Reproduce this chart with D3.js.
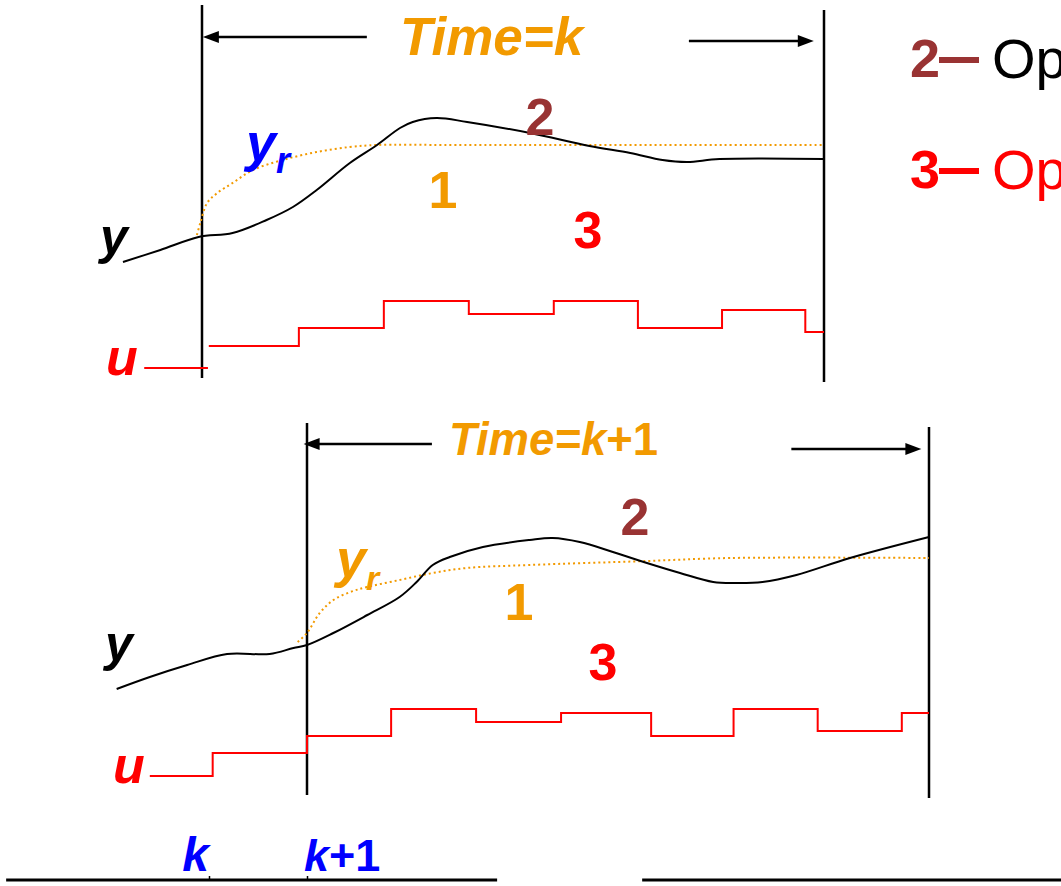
<!DOCTYPE html>
<html>
<head>
<meta charset="utf-8">
<script src="https://cdn.jsdelivr.net/npm/d3@7"></script>
<style>
  body { margin: 0; background: #fff; }
  svg { display: block; font-family: "Liberation Sans", Arial, sans-serif; }
</style>
</head>
<body>
<div id="svganchor"></div>
<script>
/*
------------------------------
DATA: values (time in samples from k, levels in arbitrary units)
------------------------------
*/
let horizon = 7.32;

// panel 1, time = k
let p1OutT = [-0.93, -0.49, -0.04, 0.36, 0.76, 1.07, 1.35, 1.74, 2.06, 2.33, 2.48, 2.76, 3.12, 3.86, 4.56, 5.04, 5.42, 5.71, 6.09, 7.32];
let p1OutV = [0.9, 1.5, 2.15, 2.35, 3.0, 3.65, 4.5, 5.85, 6.75, 7.6, 7.9, 8.1, 7.9, 7.35, 6.7, 6.35, 6.0, 5.9, 6.05, 6.05];
let p1RefT = [-0.06, -0.02, 0.06, 0.18, 0.36, 0.6, 0.95, 1.35, 1.74, 2.06, 3.0, 7.32];
let p1RefV = [2.25, 2.85, 3.85, 4.35, 4.85, 5.5, 6.0, 6.4, 6.65, 6.75, 6.75, 6.75];
let p1PastUT = [-0.68, 0.07];
let p1PastUV = [1.2, 1.2];
let p1UT = [0.08, 1.14, 2.14, 3.14, 4.14, 5.13, 6.12, 7.1, 7.32];
let p1UV = [3.4, 5.2, 7.9, 6.6, 7.9, 5.2, 7.0, 4.8, 4.8];

// panel 2, time = k+1
let p2OutT = [-2.24, -1.85, -1.41, -0.94, -0.44, -0.16, 0, 0.31, 0.71, 1.09, 1.29, 1.48, 1.68, 2.07, 2.62, 2.89, 3.21, 3.6, 4.0, 4.39, 4.78, 5.06, 5.36, 5.76, 6.39, 7.32];
let p2OutV = [0.2, 0.8, 1.4, 1.95, 1.95, 2.25, 2.4, 3.0, 3.9, 4.8, 5.55, 6.4, 6.8, 7.3, 7.65, 7.75, 7.55, 7.05, 6.5, 6.0, 5.55, 5.5, 5.55, 5.9, 6.75, 7.8];
let p2RefT = [-0.11, 0, 0.15, 0.31, 0.51, 0.71, 1.09, 1.48, 1.88, 2.62, 4.0, 4.98, 7.32];
let p2RefV = [2.55, 3.0, 4.0, 4.65, 5.05, 5.3, 5.65, 6.0, 6.25, 6.4, 6.6, 6.75, 6.75];
let p2UT = [-1.85, -1.11, 0, 0.99, 1.99, 2.99, 4.05, 5.02, 6.01, 7.0, 7.32];
let p2UV = [1.2, 3.5, 5.2, 7.9, 6.6, 7.5, 5.2, 7.9, 5.7, 7.5, 7.5];

// bottom time line
let tickValues = [0, 1];
let tickLabels = ["k", "k+1"];
let timeLine = [-2.07, 2.94];
let timeArrow = [4.42, 8.9];

// legend
let legendKeys = ["2", "3"];
let legendText = ["Op", "Op"];

/*
------------------------------
METHOD: canvas and colours
------------------------------
*/
let width = 1061;
let height = 886;
let orange = "#F29A00";
let brown = "#993333";
let red = "#FF0000";
let blue = "#0000FF";

let svg = d3.select("#svganchor")
    .append("svg")
    .attr("width", width)
    .attr("height", height);

function pts(t, v) { return t.map((d, i) => ({t: d, v: v[i]})); }

// horizontal arrow: shaft plus a filled head at x2
function hArrow(parent, x1, x2, y, w) {
    let dir = x2 > x1 ? 1 : -1;
    let len = 16, half = 6;
    parent.append("line")
        .attr("x1", x1).attr("x2", x2 - dir * (len - 2))
        .attr("y1", y).attr("y2", y)
        .attr("stroke", "#000").attr("stroke-width", w);
    parent.append("path")
        .attr("d", "M" + x2 + "," + y + "L" + (x2 - dir * len) + "," + (y - half) +
            "L" + (x2 - dir * len) + "," + (y + half) + "Z")
        .attr("fill", "#000");
}

/*
------------------------------
METHOD: draw one prediction panel
------------------------------
*/
function drawPanel(cfg) {
    let x = d3.scaleLinear().domain([0, horizon]).range([cfg.left, cfg.left + 622]);
    let yOut = d3.scaleLinear().domain([0, 8]).range([cfg.base, cfg.base - 160]);
    let yU = d3.scaleLinear().domain([0, 8]).range([cfg.uBase, cfg.uBase - 80]);
    let g = svg.append("g");

    let smooth = d3.line().x(d => x(d.t)).y(d => yOut(d.v)).curve(d3.curveCatmullRom.alpha(0.5));
    let step = d3.line().x(d => x(d.t)).y(d => yU(d.v)).curve(d3.curveStepAfter);

    // horizon borders
    g.append("line").attr("x1", x(0)).attr("x2", x(0))
        .attr("y1", cfg.lineTop[0]).attr("y2", cfg.lineBottom[0])
        .attr("stroke", "#000").attr("stroke-width", 2.5);
    g.append("line").attr("x1", x(horizon)).attr("x2", x(horizon))
        .attr("y1", cfg.lineTop[1]).attr("y2", cfg.lineBottom[1])
        .attr("stroke", "#000").attr("stroke-width", 2.5);

    // horizon arrows
    hArrow(g, x(cfg.arrowL[0]), x(cfg.arrowL[1]), cfg.arrowY[0], 2.5);
    hArrow(g, x(cfg.arrowR[0]), x(cfg.arrowR[1]), cfg.arrowY[1], 2.5);

    // reference trajectory
    g.append("path").datum(pts(cfg.refT, cfg.refV))
        .attr("d", smooth).attr("fill", "none")
        .attr("stroke", orange).attr("stroke-width", 2).attr("stroke-dasharray", "2,3");

    // predicted output
    g.append("path").datum(pts(cfg.outT, cfg.outV))
        .attr("d", smooth).attr("fill", "none")
        .attr("stroke", "#000").attr("stroke-width", 2);

    // control moves
    cfg.uSeries.forEach(function(s) {
        g.append("path").datum(pts(s[0], s[1]))
            .attr("d", step).attr("fill", "none")
            .attr("stroke", red).attr("stroke-width", 2);
    });

    // labels
    cfg.labels.forEach(function(l) {
        g.append("text")
            .attr("x", l.x).attr("y", l.y)
            .attr("text-anchor", l.anchor || "start")
            .attr("font-size", l.size)
            .attr("font-weight", "bold")
            .attr("font-style", l.italic ? "italic" : "normal")
            .attr("fill", l.color)
            .text(l.text);
        if (l.sub) {
            g.append("text").attr("x", l.sub.x).attr("y", l.sub.y)
                .attr("font-size", l.sub.size).attr("font-weight", "bold")
                .attr("font-style", "italic").attr("fill", l.color).text(l.sub.text);
        }
    });
}

drawPanel({
    left: 202, base: 280, uBase: 380,
    lineTop: [5, 10], lineBottom: [378, 382],
    arrowL: [1.94, 0.01], arrowR: [5.73, 7.2], arrowY: [37, 41],
    outT: p1OutT, outV: p1OutV, refT: p1RefT, refV: p1RefV,
    uSeries: [[p1PastUT, p1PastUV], [p1UT, p1UV]],
    labels: [
        {text: "y", x: 100, y: 254, size: 50, italic: true, color: "#000"},
        {text: "y", x: 246, y: 161, size: 54, italic: true, color: blue,
            sub: {text: "r", x: 276, y: 173, size: 36}},
        {text: "1", x: 443, y: 208, size: 52, anchor: "middle", color: orange},
        {text: "2", x: 540, y: 135, size: 52, anchor: "middle", color: brown},
        {text: "3", x: 588, y: 248, size: 52, anchor: "middle", color: red},
        {text: "u", x: 122, y: 375, size: 52, anchor: "middle", italic: true, color: red}
    ]
});

drawPanel({
    left: 307, base: 693, uBase: 788,
    lineTop: [423, 427], lineBottom: [795, 798],
    arrowL: [1.47, -0.04], arrowR: [5.7, 7.23], arrowY: [444, 449],
    outT: p2OutT, outV: p2OutV, refT: p2RefT, refV: p2RefV,
    uSeries: [[p2UT, p2UV]],
    labels: [
        {text: "y", x: 105, y: 661, size: 50, italic: true, color: "#000"},
        {text: "y", x: 336, y: 577, size: 54, italic: true, color: orange,
            sub: {text: "r", x: 366, y: 590, size: 34}},
        {text: "1", x: 519, y: 620, size: 52, anchor: "middle", color: orange},
        {text: "2", x: 635, y: 535, size: 52, anchor: "middle", color: brown},
        {text: "3", x: 603, y: 680, size: 52, anchor: "middle", color: red},
        {text: "u", x: 129, y: 783, size: 52, anchor: "middle", italic: true, color: red}
    ]
});

/*
------------------------------
METHOD: panel titles
------------------------------
*/
let title1 = svg.append("text").attr("x", 400).attr("y", 55)
    .attr("font-size", 53).attr("font-weight", "bold").attr("font-style", "italic")
    .attr("fill", orange);
title1.append("tspan").text("Time=k");

let title2 = svg.append("text").attr("x", 449).attr("y", 455)
    .attr("font-size", 45.5).attr("font-weight", "bold").attr("fill", orange);
title2.append("tspan").attr("font-style", "italic").text("Time=k");
title2.append("tspan").text("+1");

/*
------------------------------
METHOD: bottom time line
------------------------------
*/
let tScale = d3.scaleLinear().domain([0, 1]).range([209, 307]);

let tAxis = d3.axisTop(tScale)
    .tickValues(tickValues)
    .tickSizeInner(4)
    .tickSizeOuter(0)
    .tickFormat("");

let axisG = svg.append("g")
    .attr("transform", "translate(0,880)")
    .call(tAxis);
axisG.select(".domain")
    .attr("d", "M" + tScale(timeLine[0]) + ",0H" + tScale(timeLine[1]))
    .attr("stroke", "#000").attr("stroke-width", 3);
axisG.selectAll(".tick line").attr("stroke", "#000").attr("stroke-width", 1.5);

tickValues.forEach(function(v, i) {
    let lab = svg.append("text")
        .attr("x", tScale(v) + (i === 0 ? 0 : -3))
        .attr("y", 871)
        .attr("text-anchor", i === 0 ? "end" : "start")
        .attr("font-size", i === 0 ? 48 : 45).attr("font-weight", "bold")
        .attr("fill", blue);
    lab.append("tspan").attr("font-style", "italic").text("k");
    if (tickLabels[i].length > 1) lab.append("tspan").text(tickLabels[i].slice(1));
});

hArrow(svg, tScale(timeArrow[0]), tScale(timeArrow[1]), 880, 3);

/*
------------------------------
METHOD: legend (cut at the right edge, as in the original slide)
------------------------------
*/
let legendY = d3.scalePoint().domain(legendKeys).range([77, 188]);
let legendColors = [brown, red];
let textColors = ["#000", red];

legendKeys.forEach(function(k, i) {
    let yy = legendY(k);
    svg.append("text").attr("x", 925).attr("y", yy)
        .attr("text-anchor", "middle").attr("font-size", 54).attr("font-weight", "bold")
        .attr("fill", legendColors[i]).text(k);
    svg.append("line").attr("x1", 939).attr("x2", 979)
        .attr("y1", yy - 17).attr("y2", yy - 17)
        .attr("stroke", legendColors[i]).attr("stroke-width", 6);
    svg.append("text").attr("x", 992).attr("y", yy + 1)
        .attr("font-size", 56).attr("fill", textColors[i]).text(legendText[i]);
});
</script>
</body>
</html>
